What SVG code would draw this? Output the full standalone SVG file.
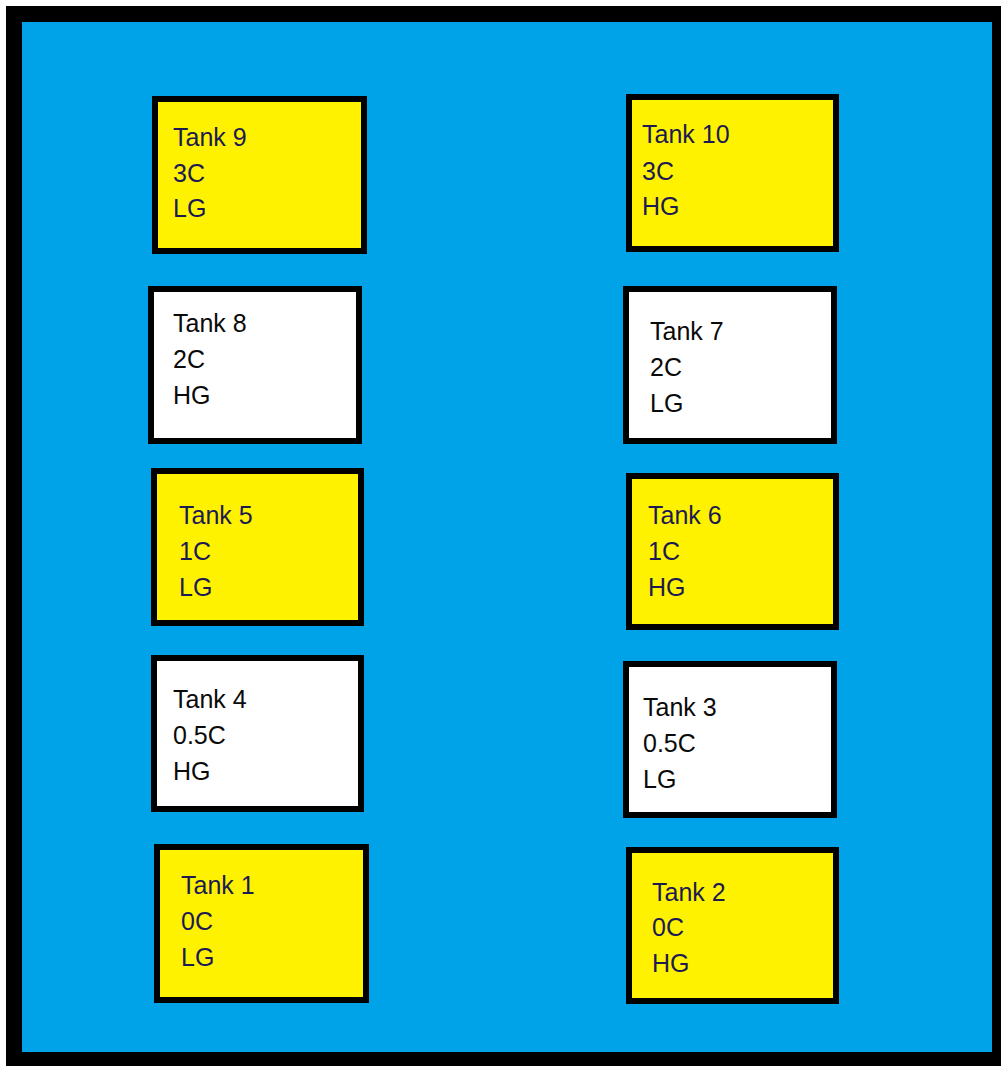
<svg xmlns="http://www.w3.org/2000/svg" width="1001" height="1066" viewBox="0 0 1001 1066">
<style>
.box{stroke:#000;stroke-width:6}
.y{fill:#FFF200}
.w{fill:#FFFFFF}
text{font-family:"Liberation Sans",Arial,sans-serif;font-size:25px}
.ty{fill:#1c1a52}
.tw{fill:#0a0a0a}
</style>
<rect x="0" y="0" width="1001" height="1066" fill="#ffffff"/>
<rect x="6" y="6" width="995" height="1060" fill="#000000"/>
<rect x="22" y="22" width="970" height="1030" fill="#00A2E8"/>
<g id="connectors"></g>
<g id="tank9"><rect class="box y" x="155" y="99" width="209" height="152"/><text class="ty" x="173" y="146">Tank 9</text><text class="ty" x="173" y="182">3C</text><text class="ty" x="173" y="217">LG</text></g>
<g id="tank10"><rect class="box y" x="629" y="97" width="207" height="152"/><text class="ty" x="642" y="143">Tank 10</text><text class="ty" x="642" y="180">3C</text><text class="ty" x="642" y="215">HG</text></g>
<g id="tank8"><rect class="box w" x="151" y="289" width="208" height="152"/><text class="tw" x="173" y="332">Tank 8</text><text class="tw" x="173" y="368">2C</text><text class="tw" x="173" y="404">HG</text></g>
<g id="tank7"><rect class="box w" x="626" y="289" width="208" height="152"/><text class="tw" x="650" y="340">Tank 7</text><text class="tw" x="650" y="376">2C</text><text class="tw" x="650" y="412">LG</text></g>
<g id="tank5"><rect class="box y" x="154" y="471" width="207" height="152"/><text class="ty" x="179" y="524">Tank 5</text><text class="ty" x="179" y="560">1C</text><text class="ty" x="179" y="596">LG</text></g>
<g id="tank6"><rect class="box y" x="629" y="476" width="207" height="151"/><text class="ty" x="648" y="524">Tank 6</text><text class="ty" x="648" y="560">1C</text><text class="ty" x="648" y="596">HG</text></g>
<g id="tank4"><rect class="box w" x="154" y="658" width="207" height="151"/><text class="tw" x="173" y="708">Tank 4</text><text class="tw" x="173" y="744">0.5C</text><text class="tw" x="173" y="780">HG</text></g>
<g id="tank3"><rect class="box w" x="626" y="664" width="208" height="151"/><text class="tw" x="643" y="716">Tank 3</text><text class="tw" x="643" y="752">0.5C</text><text class="tw" x="643" y="788">LG</text></g>
<g id="tank1"><rect class="box y" x="157" y="847" width="209" height="153"/><text class="ty" x="181" y="894">Tank 1</text><text class="ty" x="181" y="930">0C</text><text class="ty" x="181" y="966">LG</text></g>
<g id="tank2"><rect class="box y" x="629" y="850" width="207" height="151"/><text class="ty" x="652" y="901">Tank 2</text><text class="ty" x="652" y="936">0C</text><text class="ty" x="652" y="972">HG</text></g>
</svg>
